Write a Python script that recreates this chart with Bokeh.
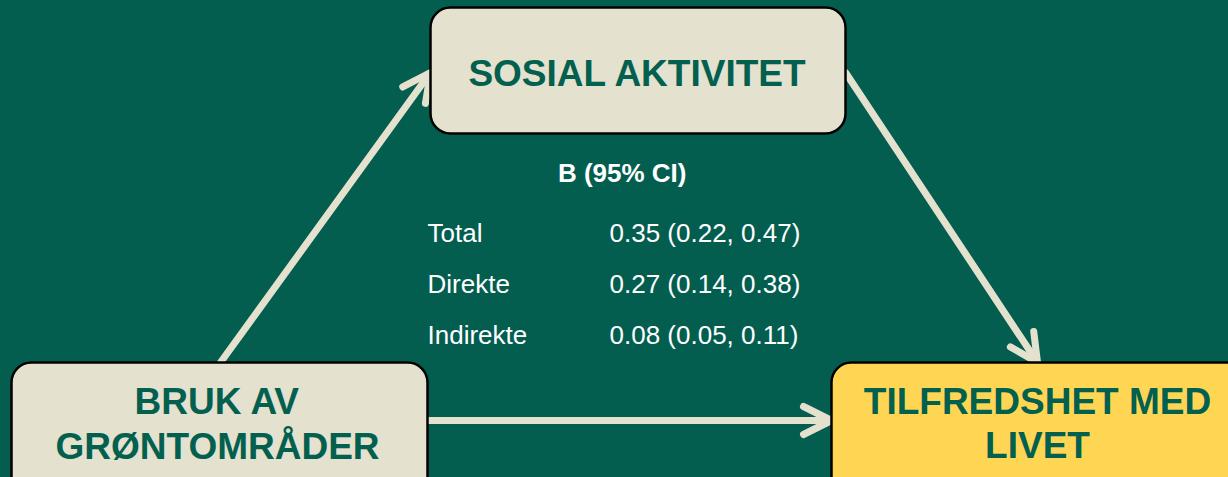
from bokeh.plotting import figure
from bokeh.models import Range1d, Arrow, OpenHead, ColumnDataSource
from bokeh.core.properties import value
from bokeh.embed import file_html
from bokeh.resources import INLINE

# ---- data ----
row_labels = ["Total", "Direkte", "Indirekte"]
b_values = [0.35, 0.27, 0.08]
ci_low = [0.22, 0.14, 0.05]
ci_high = [0.47, 0.38, 0.11]
header = "B (95% CI)"
node_mediator = ["SOSIAL AKTIVITET"]
node_exposure = ["BRUK AV", "GRØNTOMRÅDER"]
node_outcome = ["TILFREDSHET MED", "LIVET"]

# ---- style ----
BG = "#035E50"
BEIGE = "#E4E1CF"
YELLOW = "#FFD653"
TXT = "#03604F"
FONT = value("Liberation Sans")
DY = -10  # baseline correction

PAD = 8
W, H = 1228, 477
p = figure(width=W + PAD, height=H + PAD, output_backend="svg", toolbar_location=None,
           x_range=Range1d(-PAD, W), y_range=Range1d(H, -PAD), min_border=0,
           background_fill_color=BG, border_fill_color=BG, outline_line_color=None)
p.axis.visible = False
p.grid.visible = False
p.styles = {"margin": "-8px"}

# arrows (beneath boxes)
head_kw = dict(size=28, line_width=7, line_color=BEIGE, line_cap="round", line_join="round")
arrows = [((220, 362), (430, 72)), ((845, 72), (1037, 362)), ((427, 420), (831, 420))]
for (xs, ys), (xe, ye) in arrows:
    p.add_layout(Arrow(x_start=xs, y_start=ys, x_end=xe, y_end=ye,
                       line_width=7, line_color=BEIGE, line_cap="round",
                       end=OpenHead(**head_kw), level="underlay"))

# boxes
boxes = ColumnDataSource(dict(
    left=[430, 11, 831], right=[845, 427, 1250],
    top=[7, 362, 362], bottom=[133, 500, 500],
    fill=[BEIGE, BEIGE, YELLOW]))
p.quad(left="left", right="right", top="top", bottom="bottom", source=boxes,
       fill_color="fill", line_color="black", line_width=2.5, border_radius=20)

# node texts
node_x = [637.5] * len(node_mediator) + [217] * len(node_exposure) + [1037] * len(node_outcome)
node_y = [y + DY - 2 for y in [85, 413, 458, 413, 457]]
p.text(x=node_x, y=node_y, text=node_mediator + node_exposure + node_outcome,
       text_font=FONT, text_font_style="bold", text_font_size="37px",
       text_color=TXT, text_align="center", text_baseline="alphabetic")

# table
p.text(x=[621.7], y=[182 + DY], text=[header], text_font=FONT, text_font_style="bold",
       text_font_size="26px", text_color="white", text_align="center",
       text_baseline="alphabetic")
row_y = [y + DY for y in [242, 293, 344]]
vals = [f"{b:.2f} ({lo:.2f}, {hi:.2f})" for b, lo, hi in zip(b_values, ci_low, ci_high)]
p.text(x=[427] * len(row_labels), y=row_y, text=row_labels, text_font=FONT,
       text_font_size="26px", text_color="white", text_align="left",
       text_baseline="alphabetic")
p.text(x=[609] * len(vals), y=row_y, text=vals, text_font=FONT,
       text_font_size="26px", text_color="white", text_align="left",
       text_baseline="alphabetic")

open("out.html", "w").write(file_html(p, INLINE))
